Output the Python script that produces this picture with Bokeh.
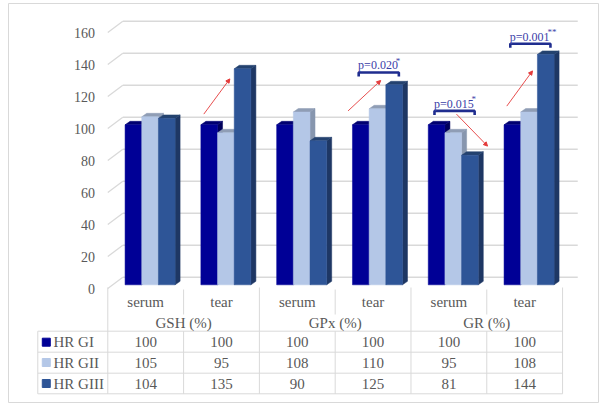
import numpy as np
from bokeh.plotting import figure
from bokeh.models import Range1d, Arrow, NormalHead
from bokeh.core.properties import value
from bokeh.embed import file_html
from bokeh.resources import INLINE

# ---- data ----
categories = ["serum", "tear", "serum", "tear", "serum", "tear"]
groups = ["GSH (%)", "GPx (%)", "GR (%)"]
series_names = ["HR GI", "HR GII", "HR GIII"]
hr_gi = [100, 100, 100, 100, 100, 100]
hr_gii = [105, 95, 108, 110, 95, 108]
hr_giii = [104, 135, 90, 125, 81, 144]
y_ticks = [0, 20, 40, 60, 80, 100, 120, 140, 160]

# significance annotations
sig_cat = [3, 4, 5]
sig_label = ["p=0.020", "p=0.015", "p=0.001"]
sig_star = ["*", "*", "**"]
sig_level = [135, 111, 153]
# trend arrows: category index, start level, end level
arr_cat = [1, 3, 4, 5]
arr_from = [109, 111, 109, 114]
arr_to = [131, 130, 89, 136]

series = [hr_gi, hr_gii, hr_giii]
front_col = ["#000096", "#b4c7e7", "#2e5597"]
side_col = ["#00005c", "#8796ae", "#1e3764"]
top_col = ["#000070", "#8f9db5", "#24426f"]

FONT = value("'Liberation Serif', 'Times New Roman', serif")
GRID = "#d9d9d9"
TXT = "#595959"

p = figure(width=600, height=405, x_range=Range1d(-1.310, 6.474),
           y_range=Range1d(-71.25, 178.125), x_axis_type=None, y_axis_type=None,
           toolbar_location=None, output_backend="svg",
           min_border_left=8, min_border_top=3, min_border_right=2, min_border_bottom=3,
           outline_line_color=GRID, background_fill_color="white",
           border_fill_color="white")

# ---- perspective gridlines ----
yt = np.array(y_ticks, dtype=float)
WALL_DX, WALL_DY = 0.198, 7.0
n = len(categories)
p.segment(x0=0, y0=yt, x1=WALL_DX, y1=yt + WALL_DY, line_color=GRID, line_width=1.3)
p.segment(x0=WALL_DX, y0=yt + WALL_DY, x1=n + 0.2, y1=yt + WALL_DY,
          line_color=GRID, line_width=1.6)
p.text(x=-0.168, y=yt, text=[str(t) for t in y_ticks], text_align="right",
       text_baseline="middle", text_font=FONT, text_font_size="14px", text_color=TXT)

# ---- 3D bars ----
BASE = 2.3
W = 0.22
OFF = 0.228
DX, DY = 0.066, 2.2
idx = np.arange(n)
for s, vals in enumerate(series):
    v = np.array(vals, dtype=float)
    x0 = idx + OFF + W * s
    x1 = x0 + W
    top = BASE + v
    side_xs = [[a, a, a + DX, a + DX] for a in x1]
    side_ys = [[BASE, t, t + DY, BASE + DY] for t in top]
    p.patches(side_xs, side_ys, fill_color=side_col[s], line_color=side_col[s], line_width=0.5)
    top_xs = [[a, b, b + DX, a + DX] for a, b in zip(x0, x1)]
    top_ys = [[t, t, t + DY, t + DY] for t in top]
    p.patches(top_xs, top_ys, fill_color=top_col[s], line_color=top_col[s], line_width=0.5)
    p.quad(left=x0, right=x1, bottom=BASE, top=top, fill_color=front_col[s],
           line_color=front_col[s], line_width=0.5)

# ---- data table ----
def V(py):
    return (288 - py) / 1.6

def X(px):
    return (px - 107.3) / 75.8

row_y = [V(341.7), V(362.0), V(383.0)]
h_lines = [V(330.7), V(351.7), V(372.7), V(393.3)]
left = X(37.3)
p.segment(x0=left, y0=h_lines, x1=n, y1=h_lines, line_color=GRID, line_width=1)
p.segment(x0=left, y0=h_lines[0], x1=left, y1=h_lines[-1], line_color=GRID, line_width=1)
gx = list(range(0, n + 1, 2))
p.segment(x0=gx, y0=V(287), x1=gx, y1=h_lines[-1], line_color=GRID, line_width=1)
cx = list(range(1, n, 2))
p.segment(x0=cx, y0=V(289), x1=cx, y1=V(314), line_color=GRID, line_width=1)
p.segment(x0=cx, y0=h_lines[0], x1=cx, y1=h_lines[-1], line_color=GRID, line_width=1)

p.text(x=idx + 0.5, y=V(301.7), text=categories, text_align="center",
       text_baseline="middle", text_font=FONT, text_font_size="15px", text_color=TXT)
p.text(x=[2 * g + 1 for g in range(len(groups))], y=V(322.7), text=groups,
       text_align="center", text_baseline="middle", text_font=FONT,
       text_font_size="15px", text_color=TXT)
p.scatter(x=X(45.8), y=row_y, marker="square", size=8, fill_color=front_col,
          line_color=front_col)
p.text(x=X(53.0), y=row_y, text=series_names, text_align="left",
       text_baseline="middle", text_font=FONT, text_font_size="15px", text_color=TXT)
for r, vals in enumerate(series):
    p.text(x=idx + 0.5, y=row_y[r], text=[str(v) for v in vals], text_align="center",
           text_baseline="middle", text_font=FONT, text_font_size="15px", text_color=TXT)

# ---- significance brackets ----
BR = "#1f2d8f"
PT = "#3c40a8"
for c, lab, st, lev in zip(sig_cat, sig_label, sig_star, sig_level):
    bx0, bx1 = c + 0.31, c + 0.84
    p.multi_line([[bx0, bx0, bx1, bx1]], [[lev - 2.5, lev, lev, lev - 2.5]],
                 line_color=BR, line_width=2.6)
p.text(x=[c + 0.565 for c in sig_cat], y=[lev + 4.5 for lev in sig_level], text=sig_label,
       text_align="center", text_baseline="middle", text_font=FONT,
       text_font_size="12px", text_color=PT)
p.text(x=[c + 0.80 for c in sig_cat], y=[lev + 7.5 for lev in sig_level], text=sig_star,
       text_align="left", text_baseline="middle", text_font=FONT,
       text_font_size="9px", text_color=PT)

# ---- trend arrows ----
RED = "#e43a3a"
arr_dx = {1: (0.267, 0.61), 3: (0.17, 0.60), 4: (0.60, 1.01), 5: (0.264, 0.603)}
for c, a, b in zip(arr_cat, arr_from, arr_to):
    sx, ex = arr_dx[c]
    p.add_layout(Arrow(end=NormalHead(size=4, fill_color=RED, line_color=RED, line_width=1),
                       x_start=c + sx, y_start=a, x_end=c + ex, y_end=b,
                       line_color=RED, line_width=0.9))

p.xgrid.visible = False
p.ygrid.visible = False

open("out.html", "w").write(file_html(p, INLINE))
